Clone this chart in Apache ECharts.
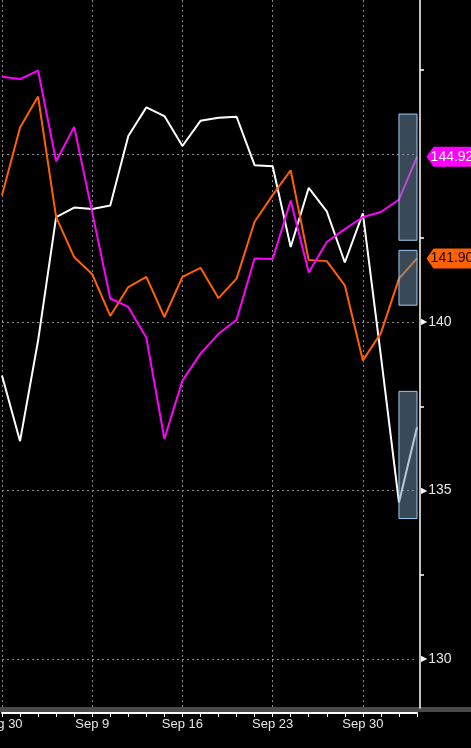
<!DOCTYPE html>
<html>
<head>
<meta charset="utf-8">
<script src="https://cdn.jsdelivr.net/npm/echarts@6/dist/echarts.min.js"></script>
<style>
html,body{margin:0;padding:0;background:#000;}
#c{width:471px;height:748px;}
</style>
</head>
<body>
<div id="c"></div>
<script>
const categories = ['Aug 30','Sep 3','Sep 4','Sep 5','Sep 6','Sep 9','Sep 10','Sep 11','Sep 12','Sep 13','Sep 16','Sep 17','Sep 18','Sep 19','Sep 20','Sep 23','Sep 24','Sep 25','Sep 26','Sep 27','Sep 30','Oct 1','Oct 2','Oct 3'];
const labelIndices = [0, 5, 10, 15, 20];
const magentaValues = [147.30,147.23,147.48,144.79,145.81,143.27,140.71,140.46,139.54,136.54,138.27,139.07,139.66,140.08,141.90,141.88,143.62,141.48,142.39,142.77,143.13,143.28,143.65,144.92];
const orangeValues = [143.78,145.79,146.71,143.13,141.94,141.43,140.19,141.05,141.35,140.16,141.35,141.62,140.72,141.30,142.99,143.78,144.52,141.85,141.82,141.10,138.87,139.68,141.30,141.90];
const whiteValues = [138.42,136.47,139.46,143.13,143.41,143.37,143.47,145.54,146.39,146.13,145.24,145.99,146.08,146.11,144.67,144.64,142.24,144.00,143.30,141.78,143.24,139.00,134.65,136.88];
const yLabelValues = [130, 135, 140];
const yGridValues = [130, 135, 140, 145];
const yMinorTicks = [132.5, 137.5, 142.5, 147.5];
const yMin = 128.54, yMax = 149.58;
// highlight boxes over the last interval: [low, high]
const boxRanges = [[142.44, 146.19], [140.51, 142.14], [134.17, 137.95]];
const boxFrom = 'Oct 2', boxTo = 'Oct 3';

const FONT = 'Liberation Sans';
const last = arr => arr[arr.length - 1];
const tagPath = 'path://M0,10 L7,0 L45,0 L45,20 L7,20 Z';

function tag(series, color, textColor) {
  return {
    symbol: tagPath,
    symbolSize: [45, 20],
    symbolOffset: [32, 0],
    symbolKeepAspect: false,
    silent: true,
    itemStyle: { color: color },
    label: {
      show: true, position: 'inside', offset: [3, 0],
      color: textColor, fontFamily: FONT, fontSize: 14,
      formatter: () => last(series).toFixed(2)
    },
    data: [{ coord: [categories.length - 1, last(series)] }]
  };
}

const chart = echarts.init(document.getElementById('c'));
chart.setOption({
  backgroundColor: '#000',
  animation: false,
  grid: { left: 2, right: 54, top: 0, bottom: 40, containLabel: false, outerBoundsMode: 'none' },
  graphic: [{
    type: 'rect', left: 0, top: 707, silent: true, z: -1,
    shape: { width: 471, height: 5 },
    style: { fill: '#4a4a4a' }
  }],
  xAxis: {
    type: 'category', data: categories, boundaryGap: false,
    offset: 5,
    axisLine: { show: true, lineStyle: { color: '#fff', width: 2 } },
    axisTick: { show: true, interval: 0, length: 4, lineStyle: { color: '#fff' } },
    axisLabel: {
      color: '#e6e6e6', fontFamily: FONT, fontSize: 13, margin: 5,
      interval: (i) => labelIndices.includes(i)
    },
    splitLine: {
      show: true, interval: (i) => labelIndices.includes(i),
      lineStyle: { color: '#8a8a8a', type: [2, 3], width: 1 }
    }
  },
  yAxis: [{
    type: 'value', position: 'right', min: yMin, max: yMax, offset: 3,
    axisLine: { show: true, lineStyle: { color: '#fff', width: 1.5 } },
    axisTick: { show: false, customValues: yGridValues },
    axisLabel: {
      show: true, customValues: yLabelValues, margin: 1,
      formatter: v => '{t|▶}{v|' + v + '}',
      rich: {
        t: { color: '#fff', fontSize: 8, fontFamily: 'DejaVu Sans', padding: [0, 1, 0, 0] },
        v: { color: '#e6e6e6', fontSize: 14, fontFamily: FONT }
      }
    },
    splitLine: { show: true, lineStyle: { color: '#8a8a8a', type: [2, 3], width: 1 } }
  }, {
    type: 'value', position: 'right', min: yMin, max: yMax, offset: 3,
    axisLine: { show: false },
    axisTick: { show: true, customValues: yMinorTicks, length: 4, lineStyle: { color: '#fff', width: 1.5 } },
    axisLabel: { show: false },
    splitLine: { show: false }
  }],
  series: [{
    name: 'white', type: 'line', data: whiteValues, symbol: 'none',
    lineStyle: { color: '#ffffff', width: 2 }, z: 3
  }, {
    name: 'orange', type: 'line', data: orangeValues, symbol: 'none',
    lineStyle: { color: '#ff6000', width: 2 }, z: 3,
    markPoint: tag(orangeValues, '#ff6000', '#1a0a00')
  }, {
    name: 'magenta', type: 'line', data: magentaValues, symbol: 'none',
    lineStyle: { color: '#ff00ff', width: 2 }, z: 3,
    markPoint: tag(magentaValues, '#ff00ff', '#ffffff')
  }, {
    name: 'boxes', type: 'line', data: [], z: 10, symbol: 'none',
    markArea: {
      silent: true, z: 10,
      itemStyle: { color: 'rgba(115,145,175,0.5)', borderColor: '#9cc9ef', borderWidth: 1 },
      data: boxRanges.map(r => [{ xAxis: boxFrom, yAxis: r[0] }, { xAxis: boxTo, yAxis: r[1] }])
    }
  }]
});
</script>
</body>
</html>
